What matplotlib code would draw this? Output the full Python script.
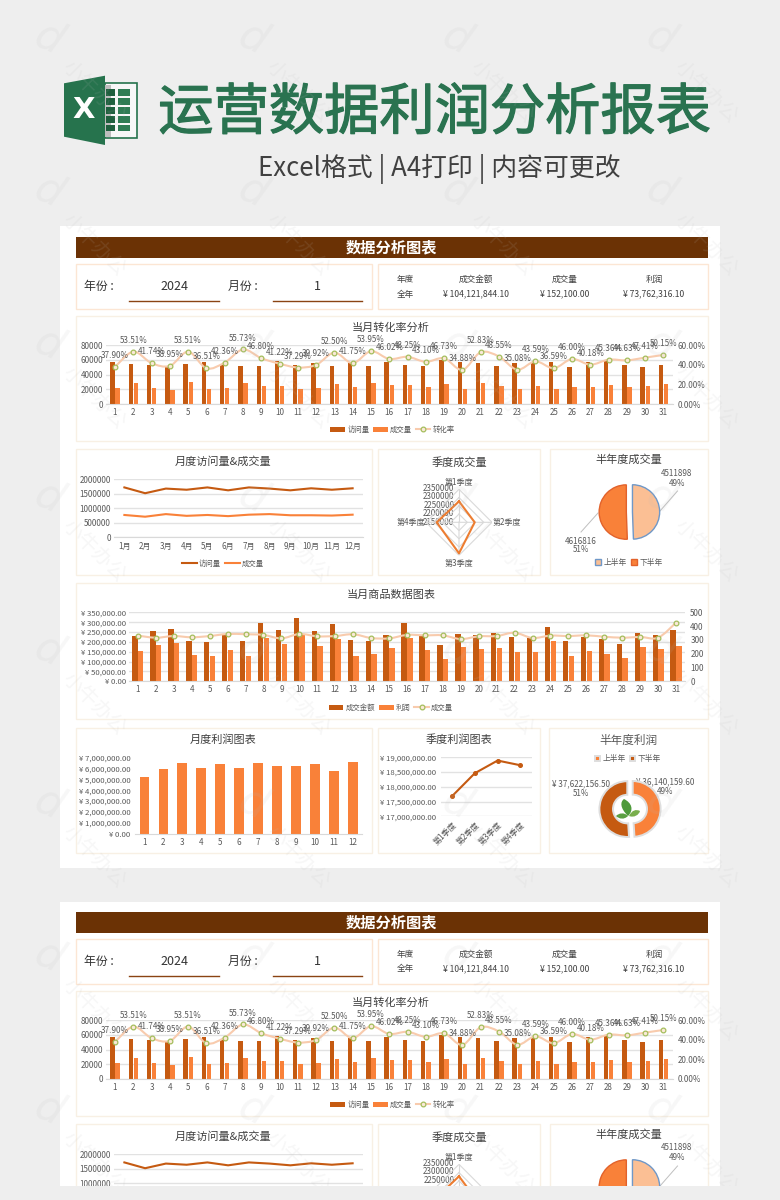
import matplotlib
matplotlib.use("Agg")
import matplotlib.pyplot as plt
import matplotlib.patheffects as pe
from matplotlib.patches import Rectangle, Polygon, PathPatch
from matplotlib.path import Path
from matplotlib.ticker import FuncFormatter, ScalarFormatter

plt.rcParams['font.family'] = ['Noto Sans CJK SC', 'DejaVu Sans']

# data
days = list(range(1, 32))
visits = [57300, 54500, 53700, 50500, 55000, 57300, 52700, 52300, 51800, 59000, 53700,
          56000, 51800, 56000, 52300, 57300, 53700, 52300, 59500, 57300, 55500, 51800,
          56400, 56400, 57700, 50500, 57300, 58200, 53200, 50500, 53200]
deals = [21700, 29000, 22400, 19700, 29400, 20900, 22300, 29100, 24200, 24300, 20000,
         22400, 27200, 23400, 28200, 26400, 25900, 22500, 27800, 20000, 29300, 25100,
         19800, 24600, 21100, 23200, 23000, 26400, 23700, 23900, 26700]
rates = [37.90, 53.51, 41.74, 38.95, 53.51, 36.51, 42.36, 55.73, 46.80, 41.22, 37.29,
         39.92, 52.50, 41.75, 53.95, 46.02, 48.25, 43.10, 46.73, 34.88, 52.83, 48.55,
         35.08, 43.59, 36.59, 46.00, 40.18, 45.36, 44.63, 47.41, 50.15]

months = [str(i) + "月" for i in range(1, 13)]
month_visits = [1720000, 1520000, 1680000, 1640000, 1720000, 1620000, 1720000, 1680000,
                1620000, 1690000, 1640000, 1690000]
month_deals = [770000, 710000, 800000, 740000, 770000, 730000, 780000, 800000, 760000,
               760000, 750000, 780000]

quarters = ["第1季度", "第2季度", "第3季度", "第4季度"]
quarter_deals = [2277000, 2245000, 2338000, 2285000]
radar_ticks = [2150000, 2200000, 2250000, 2300000, 2350000]

half_names = ["上半年", "下半年"]
half_deals = [4511898, 4616816]
half_profit = [36140159.60, 37622156.50]

amount = [230000, 257000, 264000, 205000, 198000, 235000, 203000, 296000, 259000, 323000,
          255000, 291000, 208000, 206000, 237000, 296000, 230000, 184000, 240000, 235000,
          245000, 225000, 218000, 277000, 203000, 223000, 213000, 189000, 245000, 235000, 262000]
profit = [154000, 184000, 193000, 132000, 127000, 157000, 127000, 218000, 189000, 235000,
          179000, 215000, 130000, 139000, 169000, 220000, 159000, 112000, 172000, 164000,
          169000, 149000, 149000, 203000, 129000, 152000, 140000, 118000, 172000, 164000, 178000]
volume = [331, 316, 328, 319, 328, 343, 341, 336, 311, 343, 326, 328, 341, 314, 311, 336,
          333, 333, 306, 326, 328, 352, 314, 331, 328, 333, 323, 316, 321, 316, 425]

month_profit = [5170000, 5970000, 6450000, 6000000, 6360000, 6000000, 6450000, 6200000,
                6180000, 6360000, 5750000, 6540000]
quarter_profit = [17680000, 18460000, 18890000, 18730000]

summary_heads = ["年度", "成交金额", "成交量", "利润"]
summary_vals = ["全年", "¥ 104,121,844.10", "¥ 152,100.00", "¥ 73,762,316.10"]

DARK = '#C55A11'
LIGHT = '#F98139'
PALE = '#F8CBAD'
BROWN = '#6B3205'
GRID = '#E2E2E2'
TXT = '#595959'
BG = '#EEEEEE'
TICK = 5.8
BOTTOM = 1186  # the second sheet is cut here

fig = plt.figure(figsize=(7.8, 12), dpi=100, facecolor=BG)

# page axes in pixels, everything that is not a chart goes here
page = fig.add_axes([0, 0, 1, 1], zorder=0)
page.set_xlim(0, 780)
page.set_ylim(1200, 0)
page.axis('off')


def ax_px(x0, y0, x1, y1, **kw):
    return fig.add_axes([x0 / 780, 1 - y1 / 1200, (x1 - x0) / 780, (y1 - y0) / 1200], **kw)


def box(x0, y0, x1, y1, color='#F8F0E4'):
    page.add_patch(Rectangle((x0, y0), x1 - x0, y1 - y0, fc='white', ec=color, lw=1))


def label(x, y, s, size=TICK, color=TXT, **kw):
    if y > BOTTOM - 3:
        return
    page.text(x, y, s, fontsize=size, color=color, ha=kw.pop('ha', 'center'), va='center', **kw)


def clean(ax, left_pad=2.2, bottom_pad=3):
    ax.patch.set_alpha(0)
    for s in ax.spines.values():
        s.set_visible(False)
    ax.spines['bottom'].set_visible(True)
    ax.spines['bottom'].set_color('#D9D9D9')
    ax.tick_params(axis='both', length=0, labelsize=TICK, labelcolor=TXT)
    ax.tick_params(axis='y', pad=left_pad)
    ax.tick_params(axis='x', pad=bottom_pad)
    ax.grid(axis='y', color=GRID, lw=1)
    ax.set_axisbelow(True)


def smooth(ax, xs, ys, **kw):
    # excel style smoothed line through the points
    pts = list(zip(xs, ys))
    verts = [pts[0]]
    codes = [Path.MOVETO]
    for i in range(len(pts) - 1):
        p0 = pts[max(i - 1, 0)]
        p1 = pts[i]
        p2 = pts[i + 1]
        p3 = pts[min(i + 2, len(pts) - 1)]
        verts.append((p1[0] + (p2[0] - p0[0]) / 6, p1[1] + (p2[1] - p0[1]) / 6))
        verts.append((p2[0] - (p3[0] - p1[0]) / 6, p2[1] - (p3[1] - p1[1]) / 6))
        verts.append(p2)
        codes += [Path.CURVE4] * 3
    ax.add_patch(PathPatch(Path(verts, codes), fill=False, **kw))


def legend(ax, handles, names, cx, cy, size=5.3, hl=2.0, hh=0.7):
    ax.legend(handles, names, loc='center', bbox_to_anchor=(cx / 780, 1 - cy / 1200),
              bbox_transform=fig.transFigure, ncol=len(names), frameon=False, fontsize=size,
              labelcolor=TXT, handlelength=hl, handleheight=hh, handletextpad=0.3,
              columnspacing=0.5, borderpad=0, borderaxespad=0)


def rate_axes(off):
    ax = ax_px(105.9, 345.3 + off, 672.6, 404 + off, zorder=2)
    clean(ax)
    b1 = ax.bar([d - 0.14 for d in days], visits, 0.24, color=DARK)
    b2 = ax.bar([d + 0.14 for d in days], deals, 0.24, color=LIGHT)
    ax.set_xlim(0.5, 31.5)
    ax.set_ylim(0, 80000)
    ax.set_yticks([0, 20000, 40000, 60000, 80000])
    ax.set_xticks(days)
    ax2 = ax.twinx()
    ax2.patch.set_alpha(0)
    for s in ax2.spines.values():
        s.set_visible(False)
    smooth(ax2, days, rates, color=PALE, lw=1.5, zorder=3)
    ax2.plot(days, rates, ls='none', marker='o', ms=3.4, mfc='#FBE9D9', mec='#A4BE5C', mew=0.9, zorder=4)
    for d, r in zip(days, rates):
        ax2.annotate("%.2f%%" % r, (d, r), xytext=(0, 8.2), textcoords='offset points',
                     ha='center', va='center', fontsize=TICK, color=TXT, zorder=5)
    ax2.set_ylim(0, 60)
    ax2.set_yticks([0, 20, 40, 60])
    ax2.set_yticklabels(["0.00%", "20.00%", "40.00%", "60.00%"])
    ax2.tick_params(axis='y', length=0, labelsize=TICK, labelcolor=TXT, pad=3.8)
    line_h, = ax2.plot([], [], color=PALE, lw=1.5, marker='o', ms=3.4, mfc='#FBE9D9', mec='#A4BE5C', mew=0.9)
    legend(ax2, [b1, b2, line_h], ["访问量", "成交量", "转化率"], 392.5, 430 + off)


def month_axes(off):
    ax = ax_px(114, 479.3 + off, 363, 537.3 + off, zorder=2)
    clean(ax)
    xs = list(range(12))
    l1, = ax.plot(xs, month_visits, color=DARK, lw=1.5)
    l2, = ax.plot(xs, month_deals, color=LIGHT, lw=1.5)
    ax.set_xlim(-0.5, 11.5)
    ax.set_ylim(0, 2000000)
    fmt = ScalarFormatter()
    fmt.set_scientific(False)
    ax.yaxis.set_major_formatter(fmt)
    if off == 0:
        ax.set_yticks([0, 500000, 1000000, 1500000, 2000000])
        ax.set_xticks(xs)
        ax.set_xticklabels(months)
        legend(ax, [l1, l2], ["访问量", "成交量"], 223, 564)
    else:
        # the rest is below the cut
        ax.set_yticks([1000000, 1500000, 2000000])
        ax.set_xticks([])


def radar_axes(off):
    r = 33
    ax = ax_px(459 - r, 522.3 + off - r, 459 + r, 522.3 + off + r, projection='polar', zorder=2)
    ax.patch.set_alpha(0)
    ax.set_theta_zero_location('N')
    ax.set_theta_direction(-1)
    ax.set_rlim(radar_ticks[0], radar_ticks[-1])
    ax.spines['polar'].set_visible(False)
    ax.grid(False)
    ax.set_xticks([])
    ax.set_yticks([])
    angles = [0, 1.5708, 3.1416, 4.7124, 0]
    for t in radar_ticks[1:]:
        ax.plot(angles, [t] * 5, color='#D9D9D9', lw=0.8)
    for a in angles[:4]:
        ax.plot([a, a], [radar_ticks[0], radar_ticks[-1]], color='#D9D9D9', lw=0.8)
    ax.plot(angles, quarter_deals + quarter_deals[:1], color='#ED7D31', lw=1.5)
    for i, t in enumerate(radar_ticks):
        label(454.4, 522.3 + off - i * 8.5, str(t), ha='right', zorder=6)
    label(459, 482.7 + off, quarters[0])
    label(507, 522.3 + off, quarters[1])
    label(459, 563 + off, quarters[2])
    label(410.6, 522.3 + off, quarters[3])


def half_pie_axes(off):
    ax = ax_px(595.4, 478 + off, 663.4, 546 + off, zorder=2)
    wedges, _ = ax.pie(half_deals, colors=['#FBBF94', LIGHT], startangle=90, counterclock=False,
                       explode=[0.09, 0.09], radius=0.8,
                       wedgeprops=dict(lw=1.0))
    wedges[0].set_edgecolor('#6F98C8')
    wedges[1].set_edgecolor('#E2622B')
    ax.set_xlim(-1, 1)
    ax.set_ylim(-1, 1)
    label(676.6, 473 + off, str(half_deals[0]))
    label(676.6, 483 + off, "49%")
    label(580.6, 541 + off, str(half_deals[1]))
    label(580.6, 550 + off, "51%")
    page.plot([677.5, 660], [491 + off, 511 + off], color='#BFBFBF', lw=0.7)
    page.plot([581, 598], [532 + off, 513 + off], color='#BFBFBF', lw=0.7)
    if off == 0:
        legend(ax, wedges, half_names, 629, 562.5, size=5.6, hl=0.8, hh=0.8)


def sheet(off):
    page.add_patch(Rectangle((76, 237 + off), 632, 21, fc=BROWN, ec='none'))
    label(391, 247.5 + off, "数据分析图表", size=11, color='white', fontweight='bold')
    box(76, 264 + off, 371.5, 308.5 + off, '#FCE6D4')
    box(378, 264 + off, 707.5, 308.5 + off, '#FCE6D4')
    label(84, 286.7 + off, "年份 :", size=8.6, color='#333333', ha='left')
    label(227.5, 286.7 + off, "月份 :", size=8.6, color='#333333', ha='left')
    label(174.5, 286.7 + off, "2024", size=9, color='#333333')
    label(317.6, 286.7 + off, "1", size=9, color='#333333')
    page.plot([129.4, 219], [301 + off, 301 + off], color='#8A4313', lw=1)
    page.plot([273, 362.2], [301 + off, 301 + off], color='#8A4313', lw=1)
    for x, h, v in zip([405, 476, 565, 654], summary_heads, summary_vals):
        label(x, 279.7 + off, h, size=6.2, color='#404040')
        label(x, 294 + off, v, size=6.2, color='#404040')

    box(76, 316 + off, 707.5, 441 + off)
    label(391, 328 + off, "当月转化率分析", size=8, color='#404040')
    rate_axes(off)

    box(76, 449 + off, 371.5, 575 + off)
    box(378, 449 + off, 540, 575 + off)
    box(550, 449 + off, 708, 575 + off)
    label(223, 461.7 + off, "月度访问量&成交量", size=8, color='#404040')
    label(459, 462 + off, "季度成交量", size=8, color='#404040')
    label(629, 460 + off, "半年度成交量", size=8, color='#404040')
    month_axes(off)
    radar_axes(off)
    half_pie_axes(off)


page.add_patch(Rectangle((60, 226), 660, 642, fc='white', ec='none'))
page.add_patch(Rectangle((60, 902), 660, 298, fc='white', ec='none'))

sheet(0)
sheet(675)

yen = FuncFormatter(lambda v, p: "¥ {:,.2f}".format(v))

# ---- rows only in the first sheet
box(76, 582.5, 707.5, 719)
label(391, 595, "当月商品数据图表", size=8, color='#404040')
ax = ax_px(128.9, 612.3, 685, 681.3, zorder=2)
clean(ax)
b1 = ax.bar([d - 0.16 for d in days], amount, 0.3, color=DARK)
b2 = ax.bar([d + 0.16 for d in days], profit, 0.3, color=LIGHT)
ax.set_xlim(0.5, 31.5)
ax.set_ylim(0, 350000)
ax.set_yticks(range(0, 350001, 50000))
ax.yaxis.set_major_formatter(yen)
ax.tick_params(axis='y', labelsize=5.6)
ax.set_xticks(days)
ax2 = ax.twinx()
ax2.patch.set_alpha(0)
for s in ax2.spines.values():
    s.set_visible(False)
smooth(ax2, days, volume, color=PALE, lw=1.5, zorder=3)
ax2.plot(days, volume, ls='none', marker='o', ms=3.4, mfc='#FBE9D9', mec='#A4BE5C', mew=0.9, zorder=4)
ax2.set_ylim(0, 500)
ax2.set_yticks(range(0, 501, 100))
ax2.tick_params(axis='y', length=0, labelsize=TICK, labelcolor=TXT, pad=3.8)
line_h, = ax2.plot([], [], color=PALE, lw=1.5, marker='o', ms=3.4, mfc='#FBE9D9', mec='#A4BE5C', mew=0.9)
legend(ax2, [b1, b2, line_h], ["成交金额", "利润", "成交量"], 391, 708)

box(76, 727.5, 371.5, 853)
box(378, 727.5, 540, 853)
box(549, 727.5, 708, 853)
label(223, 740, "月度利润图表", size=8, color='#404040')
label(458.6, 740, "季度利润图表", size=8, color='#404040')
label(628, 740, "半年度利润", size=8.4, color='#595959')

ax = ax_px(134.7, 757.3, 362.4, 834, zorder=2)
clean(ax, left_pad=3)
ax.grid(False)
ax.bar(range(1, 13), month_profit, 0.49, color=LIGHT)
ax.set_xlim(0.5, 12.5)
ax.set_ylim(0, 7000000)
ax.set_yticks(range(0, 7000001, 1000000))
ax.yaxis.set_major_formatter(yen)
ax.tick_params(axis='y', labelsize=5.6)
ax.set_xticks(range(1, 13))

ax = ax_px(440.6, 757.3, 531.8, 816.3, zorder=2)
clean(ax, left_pad=3)
ax.spines['bottom'].set_visible(False)
ax.plot(range(1, 5), quarter_profit, color=DARK, lw=1.5, marker='o', ms=2.6)
ax.set_xlim(0.5, 4.5)
ax.set_ylim(17000000, 19000000)
ax.set_yticks(range(17000000, 19000001, 500000))
ax.yaxis.set_major_formatter(yen)
ax.tick_params(axis='y', labelsize=5.6)
ax.set_xticks(range(1, 5))
ax.set_xticklabels(quarters, rotation=45, ha='right', rotation_mode='anchor', fontsize=TICK)

ax = ax_px(596, 775, 664, 843, zorder=2)
wedges, _ = ax.pie(half_profit, colors=[LIGHT, DARK], startangle=90, counterclock=False,
                   explode=[0.08, 0.08], radius=0.82,
                   wedgeprops=dict(width=0.4, lw=1.4, edgecolor='#DEDEDE'))
ax.set_xlim(-1, 1)
ax.set_ylim(-1, 1)
legend(ax, wedges, half_names, 628, 759, size=5.6, hl=0.7, hh=0.7)
label(665, 781.7, "¥ 36,140,159.60")
label(665, 791, "49%")
label(580.6, 784, "¥ 37,622,156.50")
label(580.6, 793, "51%")

# leaf in the donut hole, in pixels of the page
top = fig.add_axes([0, 0, 1, 1], zorder=10)
top.set_xlim(0, 780)
top.set_ylim(1200, 0)
top.axis('off')
leaf_path = [Path.MOVETO, Path.CURVE4, Path.CURVE4, Path.CURVE4, Path.CURVE4, Path.CURVE4, Path.CURVE4]
leaves = [
    ((628, 816), (620, 808), (620, 802), (624, 799), (632, 803), (634, 810), (628, 816)),
    ((629, 816), (632, 810), (636, 809), (640, 811), (639, 815), (634, 818), (629, 816)),
    ((628, 816), (624, 812), (619, 813), (616, 816), (619, 819), (624, 820), (628, 816)),
]
for lf, col in zip(leaves, ['#4E9A3B', '#79AE4C', '#5BA043']):
    top.add_patch(PathPatch(Path(lf, leaf_path), fc=col, ec='none'))

# ---- header, logo
top.add_patch(Rectangle((105, 82.5), 31.5, 55, fc='#F7F7F7', ec='#26734D', lw=1.2))
top.add_patch(Rectangle((105, 85), 6, 52, fc='#BDBDBD', ec='none'))
for row in range(5):
    for col in range(2):
        x = [106, 118][col]
        y = 89.3 + row * 8.9
        top.add_patch(Rectangle((x, y), [9, 12][col], 6.5, fc=['#1F5F3E', '#2F7C54'][col], ec='none'))
top.add_patch(Polygon([(64, 83.3), (105, 75.7), (105, 145), (64, 136.7)], fc='#26734D', ec='none'))
top.text(83.5, 110.5, "X", color='white', fontsize=21, fontweight='bold', ha='center', va='center', family='DejaVu Sans')
top.text(434.5, 113.5, "运营数据利润分析报表", color='#2A7350', fontsize=39.8, ha='center', va='center',
         path_effects=[pe.withStroke(linewidth=0.9, foreground='#2A7350')])
top.text(439.5, 168.5, "Excel格式 | A4打印 | 内容可更改", color='#404040', fontsize=18.6, ha='center', va='center')

# grey band under the second sheet
top.add_patch(Rectangle((0, BOTTOM), 780, 1200 - BOTTOM, fc=BG, ec='none', zorder=8))

# watermark
for i in range(4):
    for j in range(8):
        wx = 48 + 204 * i
        wy = 38 + 153 * j
        if wy + 54 > 1170:
            continue
        top.text(wx, wy, "d", color='#BBBBBB', alpha=0.12, fontsize=30, rotation=-25, ha='center', va='center', style='italic', family='DejaVu Sans')
        top.text(wx + 46, wy + 54, "小牛办公", color='#BBBBBB', alpha=0.12, fontsize=14.4, rotation=-45, ha='center', va='center')

fig.savefig('out.png', dpi=100, facecolor=BG)
